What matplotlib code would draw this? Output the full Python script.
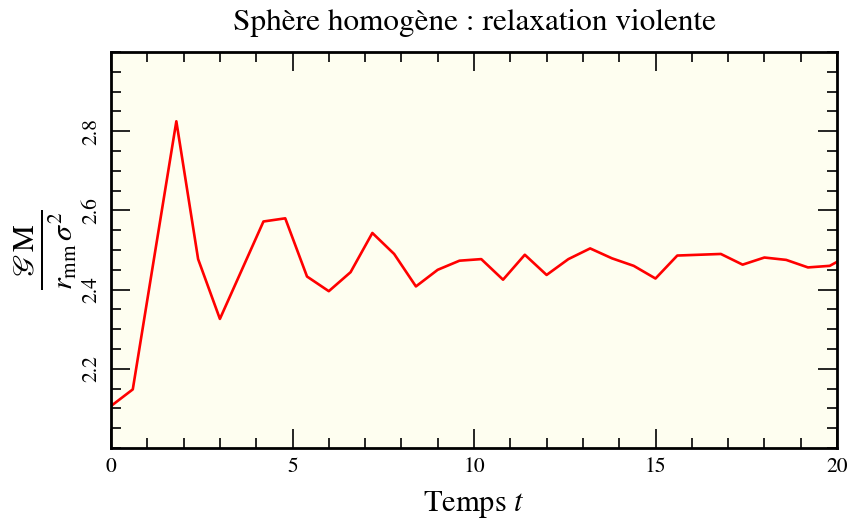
import matplotlib
matplotlib.use("Agg")
import matplotlib.pyplot as plt
from matplotlib.ticker import MultipleLocator

plt.rcParams["font.family"] = ["STIXGeneral", "DejaVu Serif"]
plt.rcParams["mathtext.fontset"] = "stix"

# Virial ratio of a homogeneous sphere during violent relaxation
t = [0.0, 0.6, 1.2, 1.8, 2.4, 3.0, 3.6, 4.2, 4.8, 5.4, 6.0, 6.6, 7.2, 7.8,
     8.4, 9.0, 9.6, 10.2, 10.8, 11.4, 12.0, 12.6, 13.2, 13.8, 14.4, 15.0,
     15.6, 16.2, 16.8, 17.4, 18.0, 18.6, 19.2, 19.8, 20.4]
ratio = [2.106, 2.148, 2.487, 2.825, 2.477, 2.326, 2.449, 2.572, 2.580, 2.433,
         2.396, 2.444, 2.543, 2.490, 2.408, 2.450, 2.473, 2.477, 2.425, 2.488,
         2.437, 2.477, 2.504, 2.479, 2.460, 2.428, 2.486, 2.488, 2.490, 2.463,
         2.481, 2.475, 2.456, 2.460, 2.490]

x_ticks = [0, 5, 10, 15, 20]
y_ticks = [2.2, 2.4, 2.6, 2.8]

fig = plt.figure(figsize=(8.47, 5.25), dpi=100)
ax = fig.add_axes([111 / 847, 1 - 448 / 525, 726 / 847, 396 / 525])
ax.set_facecolor("#fefef0")

ax.plot(t, ratio, color="red", lw=1.9)

ax.set_xlim(0, 20)
ax.set_ylim(2.0, 3.0)
ax.set_xticks(x_ticks)
ax.set_yticks(y_ticks)
ax.set_xticklabels([str(v) for v in x_ticks])
ax.set_yticklabels([f"{v:.1f}" for v in y_ticks], rotation=90, va="center")
ax.xaxis.set_minor_locator(MultipleLocator(1))
ax.yaxis.set_minor_locator(MultipleLocator(0.05))

ax.tick_params(which="both", direction="in", top=True, right=True,
               width=1.2, colors="black", labelsize=15.5)
ax.tick_params(which="major", length=14, pad=7)
ax.tick_params(which="minor", length=7)
for s in ax.spines.values():
    s.set_linewidth(2.0)

ax.set_title("Sphère homogène : relaxation violente", fontsize=22.5, pad=16)
ax.set_xlabel("Temps $t$", fontsize=22, labelpad=8)
ax.set_ylabel(r"$\frac{\mathscr{G}\,\mathrm{M}}{r_{\mathrm{mm}}\,\sigma^2}$",
              fontsize=31, labelpad=2)

fig.savefig("out.png", dpi=100)
